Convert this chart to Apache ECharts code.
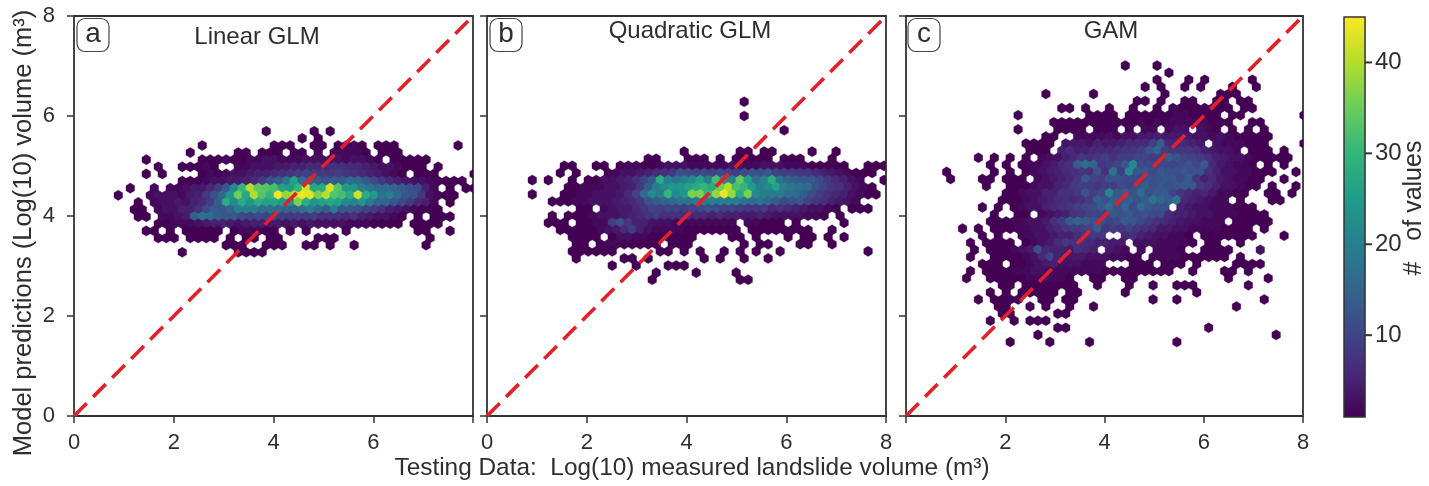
<!DOCTYPE html>
<html><head><meta charset="utf-8">
<script src="https://cdn.jsdelivr.net/npm/echarts@6/dist/echarts.min.js"></script>
<style>html,body{margin:0;padding:0;background:#fff}#c{width:1429px;height:486px;filter:blur(0.5px)}</style>
</head><body><div id="c"></div>
<script>
// Hexbin counts. Each entry: [row, firstColumn, count, count, ...]
const rowsLinear = [
[9,18,1],[9,24,1],[9,26,1],
[8,23,1],[8,25,1],
[7,10,1],[7,19,1,1,1],[7,24,1,1],[7,27,1,2,2,1],[7,32,1,1,1],[7,42,1],
[6,9,1],[6,15,1,1],[6,18,1,1,1],[6,22,1,1],[6,25,2],[6,27,2,2,2,2,1],[6,33,1,1,1],
[5,3,1],[5,10,1,1,1,2,1,1,2,2,3,3,2,2,2,3,3,3,3,3,2,3,3,2,1],[5,34,1,1,1,1,1],
[4,5,1],[4,8,1,1,1,2,1],[4,15,2,2,3,3,3,4,4,5,5,6,6,6,7,7,6,6,5,4,3,3,2,1,1,1],[4,40,1],
[3,3,1],[3,5,1],[3,10,1,2,1,2,3,3,4,5,5,6,7,8,9,10,9,9,8,9,8,7,6,5,4,3,2,1],[3,37,1,1,1],[3,44,1],
[2,8,1,1,1,2,3,3,4,4,5,6,9,12,14,18,26,16,15,14,13,14,14,17,16,13,11,8,6,5,4,3,3,2,1,1,1,1],
[1,1,1],[1,4,2],[1,6,2,2,3,4,4,6,9,13,22,30,40,34,33,32,26,25,30,42,27,28,42,33,25,24,20,18,16,16,15,13,12,11,5,2],[1,41,1],[1,43,1,1],
[0,0,1],[0,4,2,3,3,3,2,4,5,8,12,16,24,35,27,40,33,30,44,38,40,44,43,36,40,33,32,28,42,28,25,18,20,16,13,12,8,3,2,1,1],
[-1,2,1],[-1,4,2,3,3,4,3,5,6,9,14,28,22,28,24,28,26,27,25,23,36,28,24,26,27,26,22,21,24,19,15,15,13,11,9,6,5,2],[-1,41,1],
[-2,2,1,1],[-2,5,2,3,3,5,5,7,11,14,13,15,20,20,20,17,17,16,15,15,17,20,16,14,20,13,13,12,10,9,7,5,4,3,2,1,1,1],
[-3,2,1,1],[-3,5,2,2,3,4,14,18,16,14,13,13,11,10,11,10,10,9,8,9,8,9,7,7,7,6,7,5,4,3,3,2,1],[-3,37,1],[-3,39,1,1,1],
[-4,5,1,1,2,2,2,3,4,5,5,4,3,4,5,5,4,4,3,4,3,4,3,3,3,3,2,2,2,1,1,1,1],[-4,37,1,1,1,1],
[-5,3,1,1],[-5,6,1],[-5,8,1,1,1,1,1],[-5,14,1,2,2,2,1,1],[-5,21,1],[-5,23,1],[-5,28,1],[-5,37,1,1],[-5,41,1],
[-6,5,1,1,1],[-6,9,1,1,1,1],[-6,14,1],[-6,16,1,1],[-6,19,1,1],[-6,25,1,1,1],[-6,39,1],
[-7,13,1,1,1],[-7,18,1,1,1],[-7,23,1,1],[-7,26,1],[-7,29,1],[-7,38,1],
[-8,8,1],[-8,15,1,1,1,1]
];
const rowsQuadratic = [
[13,26,1],[11,26,1],[9,31,1],
[6,19,1],[6,26,1,1],[6,29,1,1],[6,35,1],[6,38,1],
[5,14,1,1],[5,19,1,1,1],[5,23,1],[5,25,1,1,1,1,1],[5,31,1,1,1],[5,37,1],
[4,4,1,1],[4,8,1,1],[4,11,1,2,2,1,1,2,3,3,3,2,2,2,2,2,3,3,2,2,3,3,3,2,2,2,1,1,1,1,1],[4,42,1,1,1],
[3,3,1],[3,5,1],[3,9,1,2,3,3,4,5,6,7,8,12,11,10,11,10,11,10,9,11,12,12,13,10,9,9,8,8,6,5,4,3,2,1,1,1],
[2,0,1],[2,2,1],[2,5,1],[2,7,1,1,3,3,4,5,7,10,13,28,20,18,20,22,26,20,32,22,20,34,26,17,20,28,18,15,14,13,13,11,8,6,5,3,2],[2,44,1],
[1,4,1,1,2,2,2,3,3,4,5,8,14,20,22,24,24,26,28,30,28,35,40,32,30,25,20,22,26,20,18,17,16,12,10,8,7,5,3,2,1],
[0,0,1],[0,4,1,1,2,2,3,3,3,4,6,10,16,22,20,30,22,24,36,36,30,38,44,38,28,36,22,20,20,19,17,16,14,11,9,7,6,5,3,2,1,1],
[-1,2,1,1,1,2,2,3,3,3,4,5,6,8,12,14,15,16,18,18,19,20,20,20,20,20,18,17,18,16,14,11,12,13,10,8,7,5,4,3,2],
[-2,6,1,1],[-2,9,2,3,4,4,6,8,10,9,10,10,9,10,11,12,11,10,10,9,8,8,9,6,7,6,5,4,3,3,2,1],[-2,40,1,1,1],
[-3,2,1],[-3,4,1],[-3,5,1,1,2,3,3,3,4,5,6,8,9,7,7,7,7,6,6,5,6,5,5,4,4,5,4,3,3,3,3,2,2,1],[-3,38,1],
[-4,2,1,1,1],[-4,6,1,1,2,2,9,12,8,5,5,3,3,3,2,2,2,2,2,2,2,2],[-4,27,2,2,1,1,1],[-4,33,1],[-4,39,1],
[-5,3,1,1,1,1,1,2,3,4,6,9,5,3,2,2,2,2,1,1,1,1,1,1,1],[-5,27,1,1,1,1,1,1,1,1],[-5,37,1],
[-6,5,1,1,1,1],[-6,10,1,3,3,2,2,1,1,1,1,1,1],[-6,25,1,1],[-6,28,1],[-6,32,1],[-6,34,1,1],[-6,37,1],[-6,39,1],
[-7,5,1,1],[-7,8,1,2,2,1,1,1,1,1],[-7,17,1,1,1],[-7,26,1],[-7,28,1,1],[-7,33,1,1],[-7,37,1],
[-8,5,1,1,1,1,1,1],[-8,16,1,1],[-8,19,1],[-8,21,1],[-8,24,1],[-8,26,1],[-8,28,1],[-8,31,1],[-8,42,1],
[-9,5,1],[-9,11,1,1],[-9,14,1],[-9,21,1],[-9,23,1],[-9,26,1],[-9,29,1],
[-10,10,1],[-10,13,1],[-10,17,1,1,1],
[-11,15,1],[-11,20,1],[-11,25,1],
[-12,15,1],[-12,26,1,1]
];
const rowsGam = [
[0,22,1],[0,26,1],
[1,27,1],
[2,26,1],[2,30,1],[2,32,1],[2,38,1],
[3,24,1],[3,26,1],[3,29,1],[3,31,1],[3,35,1],[3,38,1],
[4,12,1],[4,18,1],[4,27,1],[4,34,1,1,1],
[5,23,1,1],[5,26,1],[5,29,1,1],[5,33,1,1],[5,36,1,1],
[6,14,1,1],[6,17,1],[6,20,1],[6,23,1],[6,26,1],[6,28,1,1,1,1,1,1,1,1],[6,37,1,1],
[7,8,1],[7,17,1,1,1,1],[7,22,1,1,1,1,1,1,2,2,1,1,1,1],[7,35,1,1],[7,44,1],
[8,13,1,1,1,1,1,1,1,1,1,1,1,2,1,2,1,2,2,2,2,2,1,1,1],[8,38,1,1],
[9,8,1],[9,13,1,1,1,1],[9,18,1,1,1],[9,22,1],[9,24,2,2],[9,27,2,3,3],[9,31,3,2,1],[9,35,1],[9,37,1],[9,39,1],
[10,12,1,1],[10,16,2,2,2,2,3,2,3,3,4,4,5,4,4,4,4,3,3,2,3,2,1,1,1,1,1],
[11,9,1,1,1,1],[11,14,3,4,4,3,5,4,4,5,6,6,6,9,14,6,6,6,5,4],[11,33,3,2,2,2,1,1,1],[11,44,1],
[12,10,1,1,1],[12,14,5,6,5,5,6,6,6,7,8,8,9,12,15,9,8,8,8,7,5,4,3,3,2],[12,38,1,1,1],[12,42,1],
[13,3,1],[13,5,1],[13,7,1],[13,9,1],[13,11,2,3,3,5,6,8,7,8,9,7,9,9,10,10,9,9,14,12,10,10,9,7,5,4,3,3,2,1,1,1,1,1],
[14,5,1],[14,7,1],[14,9,1,2,2,3,4,6,7,14,16,15,8,9,10,13,22,11,11,10,11,10,11,12,10,13,6,4,3,2,2,1],[14,40,1],[14,42,1],
[15,-1,1],[15,5,1],[15,7,1],[15,9,1,2,3,4,5,6,7,8,7,12,7,18,9,22,13,13,11,13,12,12,13,12,12,7,5,3,3,2,2,1,1,1],[15,43,1],
[16,0,1],[16,4,1,1],[16,7,1,1,1],[16,11,2,3,4,5,6,8,13,10,9,12,12,11,11,10,12,12,13,13,11,14,8,5,6,4,3,2,2,1,1],[16,42,1],
[17,4,1],[17,7,1,1,1,2,3,3,5,6,8,9,9,8,9,9,11,10,12,14,12,13,12,13,14,13,8,7,5,3,3,2,1,1],[17,40,1],[17,43,1],
[18,7,1,1,2,3,3,5,5,7,7,8,12,9,11,21,13,14,12,16,12,13,14,10,8,6,5,6,4,2,2,1,1],[18,40,1,1],[18,43,1],
[19,6,1,1,1,2,3,4,5,6,7,6,7,9,14,12,14,13,14,12,14,18,15,14,18,6,5,4,3,2,2],[19,36,1],[19,40,1,1],
[20,4,1],[20,6,1],[20,8,1,2,3,3,5,6,7,8,9,10,11,14,16,12,15,11,16,13,12,12],[20,29,5,4,3,3,2,2,2,1,1,1],
[21,5,1],[21,8,1,1],[21,11,2,3,4,5,7,8,10,10,10,13,12,13,11,12,11,11,6,5,5,4,3,3,2,2,2,1,1,1,1],
[22,5,1,1,1,2,2,3,3,4,7,9,14,15,14,12,12,10,11,14,13,11,9,7,6,5,4,3,3,2,2,2],[22,36,1,1,1,1,1],
[23,1,1],[23,3,1],[23,5,1,1,1,2,2,3,3,5,6,8,9,9,10,14,8,9,8,10,8,7,6,4,4,3,3,2,2,2,2,1,1,1,1],[23,39,1],
[24,4,1],[24,6,1],[24,9,2,2,3,3,4,5,5,7,8,8,8],[24,22,6,7,5,4,3,3,2,2,1],[24,32,1,1,1,1,1,1,1],[24,42,1],
[25,2,1],[25,4,1,1,1,1],[25,9,1,2,3,4,6,8,7,7,6,5,5,4,4],[25,23,3,3,3,2,2,2,2,1],[25,32,1,1],[25,36,1],
[26,3,1],[26,5,1,1,1,2,3,4,12,6,5,5,4,7,6,5],[26,20,4,3,2],[26,24,2],[26,26,2,2,2,1],[26,32,1,1,1,1],[26,39,3],
[27,2,1],[27,5,1,1,1,1,2,3,6,10,5,4,4,4,3,3,3,2,2,1,1],[27,25,2,2,2,2,1,1,1,1,1,1],[27,36,1],
[28,4,1,1,1],[28,8,1,1,2,3,4,5,3,3,3,2,2,2],[28,23,1,1,1],[28,27,1,1,1],[28,31,1],[28,36,1,1,1,1],
[29,2,1],[29,4,1,1,1,1,2,2,3,3,2,2,2,2,2,2,2,1,1,1,1,1,1,1,1,1],[29,30,1],[29,34,1,1],[29,37,1],
[30,2,1],[30,5,1,1,1,1,1,2,2,3,2,2,1],[30,18,1,1],[30,22,1,1],[30,35,1],[30,40,1],
[31,6,1,1],[31,9,1,1,1,1,1,1,1],[31,18,1],[31,22,1],[31,25,1],[31,28,1,1,1],[31,37,1],
[32,5,1],[32,7,1],[32,9,1,1,1,1,1],[32,15,1,1],[32,22,1],[32,31,1],
[33,3,1],[33,5,1,1,1,1],[33,11,1,1],[33,14,1,1],[33,25,1],[33,28,1],[33,39,1],
[34,6,1,1],[34,10,1],[34,12,1],[34,15,1],[34,18,1],[34,36,1],
[35,6,1,1],[35,13,1,1],
[36,5,1],[36,8,1],[36,10,1,1,1],
[37,13,1,1],[37,32,1],
[38,11,1],[38,41,1],
[39,7,1],[39,12,1],[39,17,1],[39,28,1]
];
const panelTitles = ['Linear GLM','Quadratic GLM','GAM'];
const panelLetters = ['a','b','c'];
const identityLine = [[0,0],[8,8]];
const colorbarTicks = [10,20,30,40];
const colorbarRange = [1,45];
const viridis = ['#440154','#482878','#3e4989','#31688e','#26828e','#1f9e89','#35b779','#6ece58','#b5de2b','#fde725'];

// hex lattice of each panel, in data units
const lattices = [
 {x0:0.888,dx:0.1603,y0:4.414,dy:0.1424},
 {x0:0.908,dx:0.1603,y0:4.433,dy:0.1424},
 {x0:0.899,dx:0.1600,y0:7.007,dy:-0.1417}
];
const FONT='"Liberation Sans",Arial,sans-serif', INK='#2e2e2e', LINE='#333';
const chart=echarts.init(document.getElementById('c'),null,{renderer:'canvas'});
function cells(rows,g){const out=[];rows.forEach(r=>{for(let i=2;i<r.length;i++){
  out.push([g.x0+g.dx*(r[1]+i-2)+((r[0]&1)?g.dx/2:0),g.y0+g.dy*r[0],r[i]]);}});return out;}
function colorOf(v){return echarts.color.lerp((v-colorbarRange[0])/(colorbarRange[1]-colorbarRange[0]),viridis);}
function hexRender(g){const hw=g.dx/2*1.07,h=Math.abs(g.dy)*1.07;
  return function(p,api){const x=api.value(0),y=api.value(1),c=colorOf(api.value(2));
    const pts=[[0,2/3],[hw,1/3],[hw,-1/3],[0,-2/3],[-hw,-1/3],[-hw,1/3]].map(o=>api.coord([x+o[0],y+o[1]*h]));
    return {type:'polygon',shape:{points:pts},style:{fill:c,stroke:c,lineWidth:0.4}};};}
const frames=[[74,399],[487,399],[906,397]];
const grids=frames.map(f=>({left:f[0],top:16,width:f[1],height:400,show:true,borderColor:LINE,borderWidth:1.8,backgroundColor:'transparent'}));
const tickStyle={show:true,length:7,lineStyle:{color:LINE,width:1.5}};
const lab={color:INK,fontFamily:FONT,fontSize:22};
const xAxes=frames.map((f,i)=>({type:'value',gridIndex:i,min:0,max:8,interval:2,splitLine:{show:false},axisLine:{show:false},axisTick:tickStyle,
  axisLabel:Object.assign({},lab,{margin:16,hideOverlap:false,showMinLabel:true,showMaxLabel:true,formatter:v=>(i===0&&v===8)||(i===2&&v===0)?'':String(v)})}));
const yAxes=frames.map((f,i)=>({type:'value',gridIndex:i,min:0,max:8,interval:2,splitLine:{show:false},axisLine:{show:false},axisTick:tickStyle,
  axisLabel:Object.assign({},lab,{show:i===0,margin:19,showMinLabel:true,showMaxLabel:true})}));
// colour bar: its own small grid whose x axis is wider than the bar, so the ticks stay inside the clip
grids.push({left:1344,top:17,width:28,height:400,show:false});
xAxes.push({type:'value',gridIndex:3,min:0,max:1.33,show:false});
yAxes.push({type:'value',gridIndex:3,min:colorbarRange[0],max:colorbarRange[1],position:'right',splitLine:{show:false},axisLine:{show:false},
  axisTick:{show:false},
  axisLabel:Object.assign({},lab,{fontSize:24,margin:3,customValues:colorbarTicks})});
const series=[];
[rowsLinear,rowsQuadratic,rowsGam].forEach((rows,i)=>{
  series.push({type:'custom',xAxisIndex:i,yAxisIndex:i,clip:true,silent:true,z:2,animation:false,
    renderItem:hexRender(lattices[i]),encode:{x:0,y:1},data:cells(rows,lattices[i])});
  series.push({type:'line',xAxisIndex:i,yAxisIndex:i,data:identityLine,symbol:'none',silent:true,z:5,animation:false,
    lineStyle:{color:'#e3202a',width:3.6,type:[18,9]}});
});
series.push({type:'custom',xAxisIndex:3,yAxisIndex:3,silent:true,z:2,animation:false,encode:{x:0,y:1},data:[[0,colorbarRange[0],1,colorbarRange[1]]],
  renderItem:(p,api)=>{const a=api.coord([api.value(0),api.value(1)]),b=api.coord([api.value(2),api.value(3)]);
    return {type:'rect',shape:{x:a[0],y:b[1],width:b[0]-a[0],height:a[1]-b[1]},
      style:{fill:new echarts.graphic.LinearGradient(0,1,0,0,viridis.map((c,i)=>({offset:i/(viridis.length-1),color:c}))),stroke:LINE,lineWidth:1.5}};}});
// colour bar ticks, placed on the bar's own value axis
series.push({type:'custom',xAxisIndex:3,yAxisIndex:3,silent:true,z:3,animation:false,encode:{x:0,y:1},data:colorbarTicks.map(v=>[1,v]),
  renderItem:(p,api)=>{const a=api.coord([1,api.value(1)]),b=api.coord([1.33,api.value(1)]);
    return {type:'rect',shape:{x:a[0],y:a[1]-1,width:b[0]-a[0],height:2},style:{fill:LINE}};}});
const graphic=[];
const txt=(x,y,t,size,extra)=>Object.assign({type:'text',x,y,z:20,style:{text:t,fill:INK,font:size+'px '+FONT,textAlign:'center',textVerticalAlign:'middle'}},extra||{});
const boxes=[77,490,908], tx=[257,690,1111], ty=[37,31,31];
panelLetters.forEach((l,i)=>{
  graphic.push({type:'rect',z:19,shape:{x:boxes[i],y:18.5,width:32,height:33,r:8},style:{fill:'#fff',stroke:'#444',lineWidth:1.2}});
  graphic.push(txt(boxes[i]+16,34,l,28));
  graphic.push(txt(tx[i],ty[i],panelTitles[i],24));
});
graphic.push(txt(692,468,'Testing Data:  Log(10) measured landslide volume (m³)',24.4));
graphic.push(txt(24,233,'Model predictions (Log(10) volume (m³)',25.5,{rotation:Math.PI/2}));
graphic.push(txt(1414,208,'#   of values',25,{rotation:Math.PI/2}));
chart.setOption({animation:false,backgroundColor:'#fff',grid:grids,xAxis:xAxes,yAxis:yAxes,series,graphic});
</script></body></html>
